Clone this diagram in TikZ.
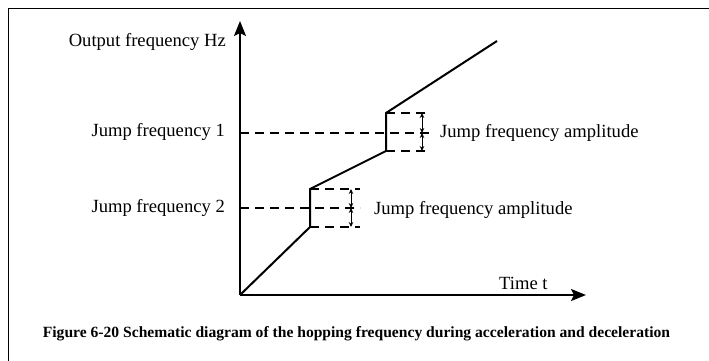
\documentclass[tikz,border=0pt]{standalone}
\usepackage{fontspec}
\setmainfont{Liberation Serif}
\usetikzlibrary{arrows.meta}
\begin{document}
\begin{tikzpicture}[x=1pt,y=-1pt,
  lbl/.style={font=\fontsize{18.6}{20}\selectfont, inner sep=0pt},
  axis/.style={line width=2pt, -{Stealth[length=15pt,width=12pt,inset=3pt]}},
  curve/.style={line width=2pt, line join=miter},
  dsh/.style={line width=1.8pt, dash pattern=on 9pt off 6pt},
  amp/.style={line width=1pt, {Stealth[length=5pt,width=4.5pt]}-{Stealth[length=5pt,width=4.5pt]}}]
\useasboundingbox (0,0) rectangle (709,361);
% frame (top and left)
\draw[line width=1.8pt] (8.5,361) -- (8.5,8.5) -- (709,8.5);
% coordinates
\coordinate (O) at (240,295);
\coordinate (Ytip) at (240,21);
\coordinate (Xtip) at (586,295);
\coordinate (A) at (310,227);
\coordinate (B) at (310,189);
\coordinate (C) at (386,151);
\coordinate (D) at (386,113);
\coordinate (E) at (497,41);
% dashed guides
\coordinate (J1L) at (240,133);
\coordinate (J1R) at (432,133);
\coordinate (J2L) at (240,208);
\coordinate (J2R) at (360,208);
\draw[dsh] (J1L) -- (J1R);
\draw[dsh] (J2L) -- (J2R);
\draw[dsh] (D) -- (429,113);
\draw[dsh] (C) -- (429,151);
\draw[dsh] (B) -- (360,189);
\draw[dsh] (A) -- (360,227);
% amplitude arrows
\draw[amp] (422,113) -- (422,133);
\draw[amp] (422,133) -- (422,151);
\draw[amp] (351,189) -- (351,208);
\draw[amp] (351,208) -- (351,227);
% axes
\draw[axis] (O) -- (Ytip);
\draw[axis] (O) -- (Xtip);
% curve
\draw[curve] (O) -- (A) -- (B) -- (C) -- (D) -- (E);
% labels
\node[lbl, anchor=east] (ylab) at (226,42) {Output frequency Hz};
\node[lbl, anchor=east] (j1) at (225,132) {Jump frequency 1};
\node[lbl, anchor=east] (j2) at (225,208) {Jump frequency 2};
\node[lbl, anchor=west] (a1) at (440,133) {Jump frequency amplitude};
\node[lbl, anchor=west] (a2) at (374,210) {Jump frequency amplitude};
\node[lbl, anchor=west] (xlab) at (499,283) {Time t};
\node[font=\fontsize{15.6}{17}\selectfont\bfseries, inner sep=0pt] (cap) at (356.5,334) {Figure 6-20 Schematic diagram of the hopping frequency during acceleration and deceleration};
\end{tikzpicture}
\end{document}
